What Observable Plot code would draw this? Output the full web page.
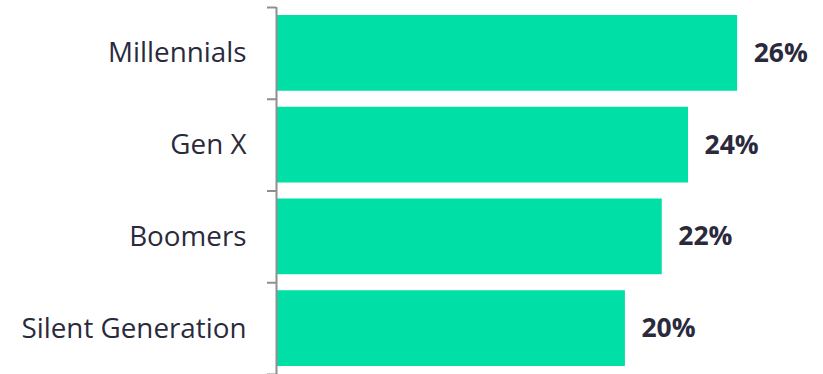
<!DOCTYPE html>
<html>
<head>
<meta charset="utf-8">
<script src="https://cdn.jsdelivr.net/npm/d3@7"></script>
<script src="https://cdn.jsdelivr.net/npm/@observablehq/plot@0.6"></script>
<style>
  html, body { margin: 0; padding: 0; background: #fff; overflow: hidden; }
</style>
</head>
<body>
<div id="chart"></div>
<script>
const categories = ["Millennials", "Gen X", "Boomers", "Silent Generation"];
const values = [26.3, 23.5, 22.0, 19.9];
const valueLabels = ["26%", "24%", "22%", "20%"];

const data = categories.map((c, i) => ({
  category: c,
  value: values[i],
  label: valueLabels[i],
  i0: i,
  i1: i + 1,
  mid: i + 0.5
}));

const chart = Plot.plot({
  width: 823,
  height: 374,
  marginLeft: 276,
  marginRight: 21,
  marginTop: 7,
  marginBottom: 0,
  style: { fontFamily: "Open Sans, sans-serif", background: "#fff" },
  x: { domain: [0, 30], axis: null },
  y: { domain: [0, 4], reverse: true, axis: null },
  marks: [
    Plot.rectX(data, {
      x1: 0, x2: "value", y1: "i0", y2: "i1",
      insetTop: 8, insetBottom: 8, insetLeft: 1,
      fill: "#00DFA6"
    }),
    Plot.axisY({
      ticks: [0, 1, 2, 3, 4],
      tickFormat: () => "",
      tickSize: 9,
      stroke: "#8f8f8f",
      strokeWidth: 2
    }),
    Plot.ruleX([0], { stroke: "#8f8f8f", strokeWidth: 2 }),
    Plot.text(data, {
      x: 0, y: "mid", text: "category",
      textAnchor: "end", dx: -30,
      fontSize: 27.8, fill: "#2b2a3d"
    }),
    Plot.text(data, {
      x: "value", y: "mid", text: "label",
      textAnchor: "start", dx: 16,
      fontSize: 26.5, fontWeight: "bold", fill: "#2b2a3d"
    })
  ]
});

document.getElementById("chart").appendChild(chart);
</script>
</body>
</html>
